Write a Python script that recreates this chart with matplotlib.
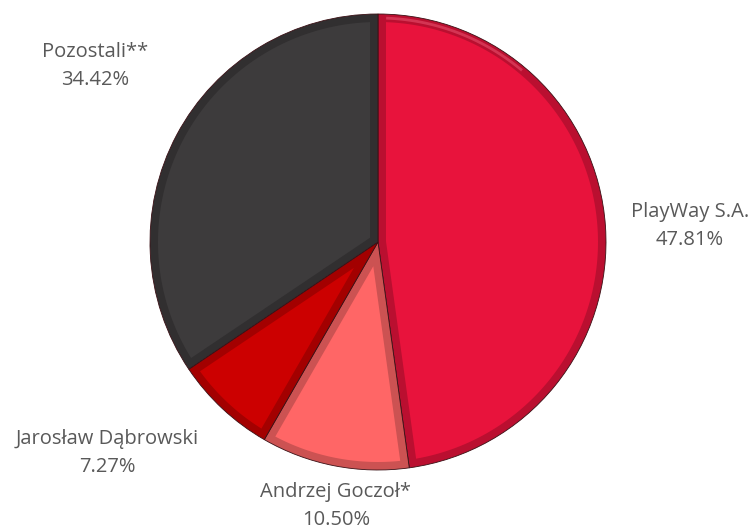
import numpy as np
import matplotlib.pyplot as plt
from matplotlib.patches import Polygon
from matplotlib import colors as mcolors

# shareholders and their share of votes
labels = ['PlayWay S.A.', 'Andrzej Goczoł*', 'Jarosław Dąbrowski', 'Pozostali**']
shares = [47.81, 10.50, 7.27, 34.42]
slice_colors = ['#E8133C', '#FF6666', '#CC0000', '#3D3B3C']

# label anchor points (pixels, top-left origin)
label_pos = [(690, 226), (336, 506), (107, 453), (95, 66)]

W, H = 756, 529
cx, cy, r = 378, H - 242, 228
bevel = 8

fig = plt.figure(figsize=(W / 100, H / 100), dpi=100)
ax = fig.add_axes([0, 0, 1, 1])


def shade(c, f):
    rgb = np.array(mcolors.to_rgb(c))
    if f < 1:
        return tuple(rgb * f)
    return tuple(rgb + (1 - rgb) * (f - 1))


wedges, _ = ax.pie(shares, colors=[shade(c, 0.8) for c in slice_colors], startangle=90,
                   counterclock=False, radius=r, center=(cx, cy), frame=True,
                   wedgeprops=dict(linewidth=0.6, edgecolor='#3a1015'))
ax.set_xlim(0, W)
ax.set_ylim(0, H)
ax.set_aspect('equal')
ax.axis('off')

# inner face of each slice, offset from the rim to give a bevelled look
for w, c in zip(wedges, slice_colors):
    t1, t2 = np.radians(w.theta1), np.radians(w.theta2)
    half = (t2 - t1) / 2
    mid = (t1 + t2) / 2
    ri = r - bevel
    d = np.arcsin(bevel / ri)
    arc = np.linspace(t1 + d, t2 - d, 200)
    pts = [(cx + ri * np.cos(a), cy + ri * np.sin(a)) for a in arc]
    apex_d = bevel / np.sin(half)
    pts.append((cx + apex_d * np.cos(mid), cy + apex_d * np.sin(mid)))
    ax.add_patch(Polygon(pts, closed=True, facecolor=c, edgecolor='none', zorder=3))
    # light highlight strip along the upper part of the rim
    ri2 = r - bevel * 0.5
    arc2 = np.linspace(max(t1 + d, np.radians(50)), min(t2 - d, np.radians(200)), 100)
    if arc2[0] < arc2[-1]:
        ax.plot(cx + ri2 * np.cos(arc2), cy + ri2 * np.sin(arc2), color=shade(c, 1.3),
                lw=2, alpha=0.5, zorder=2.5, solid_capstyle='butt')

for lab, val, (px, py) in zip(labels, shares, label_pos):
    ax.text(px, H - py, f'{lab}\n{val:.2f}%', ha='center', va='center', fontsize=14.5,
            family='Open Sans', color='#595959', linespacing=1.5)

fig.savefig('out.png', dpi=100)
